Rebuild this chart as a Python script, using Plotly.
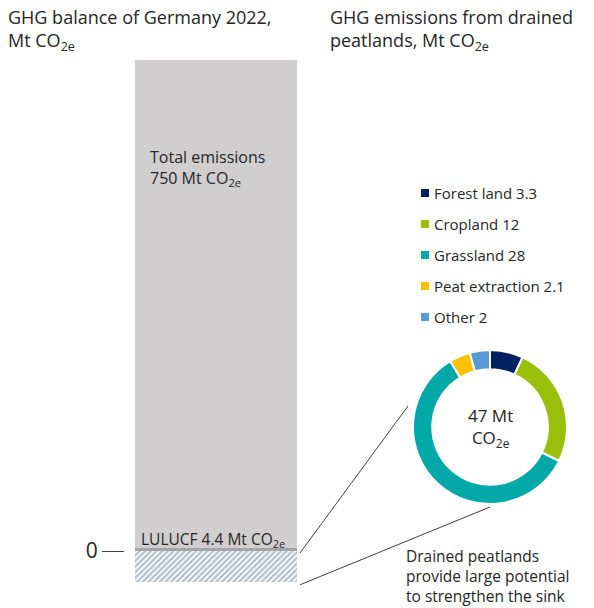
import plotly.graph_objects as go

# ---- data ----
total_emissions = 750          # Mt CO2e, Germany 2022
lulucf = 4.4                   # Mt CO2e
peatland_total = 47            # Mt CO2e, drained peatlands
peat_labels = ["Forest land", "Cropland", "Grassland", "Peat extraction", "Other"]
peat_values = [3.3, 12, 28, 2.1, 2]
peat_colors = ["#002060", "#99bf0a", "#00a8a8", "#ffc000", "#5b9bd5"]

# ---- layout geometry (pixels) ----
W, H = 594, 608
Y0 = 551                       # pixel row of the zero line
K = 491 / 750                  # pixels per Mt
AX_LEFT = 125                  # pixel column of the y axis
BAR_L, BAR_R = 135, 297
TEXT = "#262626"
FONT = "Open Sans"


def px(x):
    return x / W


def py(y):
    return 1 - y / H


def y_of(v):
    return Y0 - v * K


fig = go.Figure()

# stacked column: total emissions, LULUCF, and the hatched sink potential
bar_x = [(BAR_L + BAR_R) / 2 - AX_LEFT]
bar_w = [BAR_R - BAR_L]
fig.add_trace(go.Bar(x=bar_x, y=[total_emissions], base=[0], width=bar_w,
                     marker=dict(color="#d0cece", line=dict(width=0)),
                     hoverinfo="skip", showlegend=False))
fig.add_trace(go.Bar(x=bar_x, y=[lulucf], base=[0], width=bar_w,
                     marker=dict(color="#a5a5a5", line=dict(width=0)),
                     hoverinfo="skip", showlegend=False))
fig.add_trace(go.Bar(x=bar_x, y=[-peatland_total], base=[0], width=bar_w,
                     marker=dict(color="white", line=dict(width=0),
                                 pattern=dict(shape="/", fgcolor="#687c9a",
                                              bgcolor="white", size=4, solidity=0.55)),
                     hoverinfo="skip", showlegend=False))

# donut of drained-peatland emissions
cx, cy, r = 490, 427, 77
fig.add_trace(go.Pie(labels=peat_labels, values=peat_values, hole=0.75,
                     sort=False, direction="clockwise", rotation=0,
                     marker=dict(colors=peat_colors, line=dict(color="white", width=2)),
                     textinfo="none", hoverinfo="label+value", showlegend=False,
                     domain=dict(x=[px(cx - r), px(cx + r)], y=[py(cy + r), py(cy - r)])))

fig.update_layout(
    width=W, height=H, margin=dict(l=0, r=0, t=0, b=0),
    paper_bgcolor="white", plot_bgcolor="white",
    barmode="overlay", bargap=0,
    font=dict(family=FONT, color=TEXT, size=15),
    xaxis=dict(domain=[px(AX_LEFT), 1], range=[0, W - AX_LEFT], visible=False, fixedrange=True),
    yaxis=dict(domain=[0, 1], range=[-(H - Y0) / K, Y0 / K],
               showgrid=False, zeroline=False, showline=False,
               tickvals=[0], ticktext=["0"], ticks="outside", ticklen=22,
               tickcolor="#404040", tickwidth=1, tickfont=dict(size=21, color=TEXT),
               fixedrange=True),
)

annotations = []


def note(x, y, text, size=15, xanchor="left", yanchor="top", align="left"):
    annotations.append(dict(x=px(x), y=py(y), xref="paper", yref="paper", text=text,
                            showarrow=False, xanchor=xanchor, yanchor=yanchor, align=align,
                            font=dict(size=size, color=TEXT, family=FONT)))


note(6, 3, "GHG balance of Germany 2022,<br>Mt CO<sub>2e</sub>", size=18)
note(328, 3, "GHG emissions from drained<br>peatlands, Mt CO<sub>2e</sub>", size=18)
note(148, 144, f"Total emissions<br>{total_emissions} Mt CO<sub>2e</sub>", size=16)
note(139, 526, f"LULUCF {lulucf} Mt CO<sub>2e</sub>", size=15.5)
note(cx, cy, f"{peatland_total} Mt<br>CO<sub>2e</sub>", size=17,
     xanchor="center", yanchor="middle", align="center")
note(404, 543, "Drained peatlands<br>provide large potential<br>to strengthen the sink", size=15.5)

# legend built from the donut series
shapes = []
for i, (lab, val, col) in enumerate(zip(peat_labels, peat_values, peat_colors)):
    ly = 193 + i * 31
    shapes.append(dict(type="rect", xref="paper", yref="paper",
                       x0=px(421), x1=px(429), y0=py(ly + 4), y1=py(ly - 4),
                       fillcolor=col, line=dict(width=0)))
    note(432, ly, f"{lab} {val:g}", size=15, yanchor="middle")

# connector lines from the column's zero line and sink bottom to the donut
line_start_x = BAR_R + 3
shapes.append(dict(type="line", xref="paper", yref="paper",
                   x0=px(line_start_x), y0=py(y_of(0) + 2), x1=px(408), y1=py(406),
                   line=dict(color="#404040", width=1)))
shapes.append(dict(type="line", xref="paper", yref="paper",
                   x0=px(line_start_x), y0=py(y_of(-peatland_total) + 3), x1=px(cx), y1=py(cy + r + 3),
                   line=dict(color="#404040", width=1)))

fig.update_layout(annotations=annotations, shapes=shapes)
fig.write_html("out.html")
